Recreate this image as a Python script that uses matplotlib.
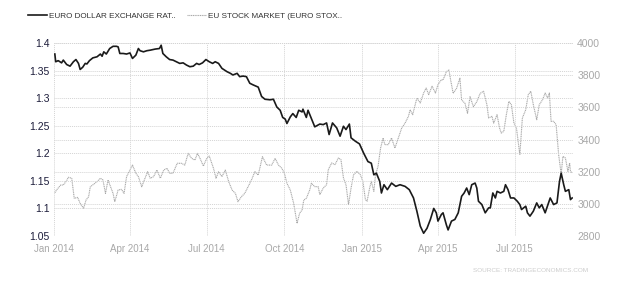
import numpy as np
import pandas as pd
import matplotlib
matplotlib.use("Agg")
import matplotlib.pyplot as plt
import matplotlib.dates as mdates

plt.rcParams['font.family'] = ['Liberation Sans', 'DejaVu Sans']

start = pd.Timestamp('2014-01-01')

# EUR/USD exchange rate: day offset from 2014-01-01 and value
eur_days = [1, 2, 5, 9, 11, 15, 19, 23, 26, 29, 31, 34, 37, 39, 42, 46, 51, 55, 57, 59,
            62, 66, 70, 74, 76, 78, 82, 86, 90, 93, 97, 100, 102, 106, 110, 114, 120, 125, 127, 129,
            133, 137, 141, 145, 149, 153, 157, 161, 165, 169, 172, 176, 180, 184, 188, 191, 195, 199, 205, 209,
            212, 217, 220, 224, 228, 232, 236, 242, 246, 250, 256, 260, 264, 268, 271, 274, 276, 280, 283, 287,
            290, 294, 295, 299, 301, 305, 309, 315, 319, 323, 326, 330, 335, 339, 343, 346, 350, 352, 357, 362,
            367, 372, 376, 379, 382, 386, 388, 391, 395, 400, 405, 410, 416, 421, 426, 430, 434, 438, 442, 446,
            450, 453, 455, 459, 461, 465, 467, 471, 475, 479, 483, 486, 489, 492, 495, 499, 501, 503, 507, 511,
            515, 517, 520, 523, 525, 529, 533, 535, 538, 541, 545, 549, 552, 554, 559, 561, 564, 568, 572, 575,
            578, 582, 584, 588, 592, 596, 599, 601, 604, 606, 610, 612, 614]
eur_vals = [1.380, 1.366, 1.368, 1.364, 1.369, 1.361, 1.358, 1.366, 1.370, 1.363, 1.352, 1.356, 1.363, 1.362, 1.368, 1.373, 1.375, 1.380, 1.376, 1.384,
            1.380, 1.390, 1.394, 1.394, 1.393, 1.381, 1.381, 1.380, 1.382, 1.372, 1.378, 1.390, 1.386, 1.384, 1.386, 1.387, 1.389, 1.390, 1.396, 1.381,
            1.375, 1.370, 1.369, 1.366, 1.363, 1.364, 1.360, 1.357, 1.358, 1.363, 1.361, 1.364, 1.370, 1.366, 1.363, 1.366, 1.363, 1.354, 1.348, 1.345,
            1.342, 1.345, 1.339, 1.340, 1.339, 1.327, 1.324, 1.320, 1.303, 1.298, 1.297, 1.298, 1.284, 1.278, 1.265, 1.262, 1.254, 1.266, 1.272, 1.265,
            1.278, 1.275, 1.280, 1.265, 1.278, 1.263, 1.248, 1.253, 1.252, 1.255, 1.234, 1.255, 1.246, 1.231, 1.249, 1.243, 1.253, 1.228, 1.222, 1.217,
            1.200, 1.185, 1.182, 1.161, 1.164, 1.149, 1.128, 1.143, 1.134, 1.146, 1.140, 1.143, 1.140, 1.134, 1.119, 1.095, 1.068, 1.055, 1.064, 1.080,
            1.100, 1.092, 1.077, 1.089, 1.092, 1.070, 1.061, 1.077, 1.080, 1.092, 1.122, 1.128, 1.137, 1.125, 1.143, 1.146, 1.137, 1.113, 1.107, 1.092,
            1.101, 1.101, 1.128, 1.119, 1.131, 1.128, 1.131, 1.143, 1.134, 1.119, 1.119, 1.113, 1.107, 1.098, 1.104, 1.092, 1.086, 1.095, 1.110, 1.101,
            1.107, 1.092, 1.101, 1.119, 1.107, 1.110, 1.149, 1.164, 1.143, 1.131, 1.134, 1.116, 1.119]

# EU stock market (Euro Stoxx 50): day offset and value
stk_days = [1, 3, 8, 11, 15, 17, 21, 24, 28, 31, 35, 38, 41, 43, 51, 55, 58, 61, 64, 70,
            72, 76, 80, 83, 86, 90, 93, 97, 100, 104, 107, 111, 114, 118, 122, 126, 130, 134, 137, 141,
            146, 151, 155, 159, 163, 167, 170, 173, 177, 181, 184, 189, 192, 195, 199, 203, 207, 211, 215, 218,
            222, 226, 230, 234, 238, 242, 247, 252, 258, 262, 266, 270, 273, 276, 280, 284, 288, 291, 294, 296,
            299, 303, 305, 309, 313, 315, 319, 323, 325, 329, 333, 337, 340, 343, 346, 349, 352, 355, 359, 363,
            366, 369, 371, 374, 376, 379, 381, 384, 387, 390, 392, 396, 400, 404, 408, 412, 416, 420, 422, 425,
            428, 430, 434, 438, 441, 444, 448, 452, 455, 459, 461, 465, 468, 470, 473, 477, 481, 483, 487, 490,
            493, 497, 501, 505, 509, 513, 515, 519, 521, 525, 528, 530, 533, 536, 539, 542, 545, 548, 552, 555,
            559, 562, 565, 568, 572, 575, 579, 582, 585, 587, 589, 592, 595, 598, 601, 603, 606, 609, 611, 612,
            614]
stk_vals = [3069, 3086, 3117, 3117, 3144, 3165, 3159, 3034, 3040, 3003, 2972, 3024, 3044, 3106, 3138, 3159, 3148, 3065, 3148, 3065,
            3013, 3086, 3090, 3065, 3169, 3210, 3241, 3190, 3169, 3106, 3148, 3200, 3159, 3169, 3210, 3159, 3210, 3221, 3190, 3190,
            3252, 3252, 3241, 3314, 3283, 3272, 3314, 3283, 3235, 3283, 3297, 3221, 3159, 3200, 3169, 3210, 3138, 3086, 3065, 3013,
            3044, 3065, 3106, 3148, 3200, 3179, 3293, 3241, 3241, 3283, 3241, 3221, 3190, 3128, 3086, 3003, 2879, 2941, 2962, 3024,
            3034, 3086, 3128, 3107, 3107, 3057, 3098, 3119, 3212, 3254, 3244, 3285, 3275, 3161, 3119, 2995, 3098, 3181, 3202, 3181,
            3140, 3026, 3016, 3098, 3140, 3078, 3181, 3233, 3347, 3409, 3368, 3368, 3409, 3347, 3409, 3471, 3502, 3544, 3585, 3554,
            3616, 3658, 3627, 3689, 3720, 3679, 3731, 3689, 3741, 3772, 3770, 3822, 3832, 3770, 3687, 3718, 3781, 3646, 3625, 3563,
            3666, 3604, 3635, 3687, 3700, 3616, 3534, 3544, 3502, 3554, 3471, 3440, 3451, 3554, 3637, 3616, 3502, 3471, 3305, 3534,
            3585, 3679, 3700, 3616, 3523, 3616, 3648, 3689, 3658, 3689, 3513, 3513, 3492, 3305, 3185, 3295, 3285, 3202, 3254, 3202,
            3192]

eur_dates = start + pd.to_timedelta(eur_days, unit='D')
stk_dates = start + pd.to_timedelta(stk_days, unit='D')

tick_dates = pd.to_datetime(['2014-01-01', '2014-04-01', '2014-07-01', '2014-10-01',
                             '2015-01-01', '2015-04-01', '2015-07-01'])
tick_labels = ['Jan 2014', 'Apr 2014', 'Jul 2014', 'Oct 2014', 'Jan 2015', 'Apr 2015', 'Jul 2015']
left_ticks = [1.05, 1.1, 1.15, 1.2, 1.25, 1.3, 1.35, 1.4]
left_labels = ['1.05', '1.1', '1.15', '1.2', '1.25', '1.3', '1.35', '1.4']
right_ticks = [2800, 3000, 3200, 3400, 3600, 3800, 4000]

fig = plt.figure(figsize=(6.27, 2.85), dpi=100)
ax = fig.add_axes([54 / 627, 1 - 236 / 285, (573 - 54) / 627, (236 - 43) / 285])
ax2 = ax.twinx()
ax.set_zorder(ax2.get_zorder() + 1)
ax.patch.set_visible(False)

grid_kw = dict(color='#d4d4d4', linestyle=(0, (1, 1)), linewidth=0.7)

l2, = ax2.plot(stk_dates, stk_vals, color='#a8a8a8', linewidth=0.8, linestyle=(0, (1, 0.6)))
l1, = ax.plot(eur_dates, eur_vals, color='#1a1a1a', linewidth=1.2)

ax.set_xlim(pd.Timestamp('2014-01-01'), start + pd.Timedelta(days=615))
ax.set_ylim(1.05, 1.4)
ax2.set_ylim(2800, 4000)

ax.set_xticks(tick_dates)
ax.set_xticklabels(tick_labels)
ax.set_yticks(left_ticks)
ax.set_yticklabels(left_labels)
ax2.set_yticks(right_ticks)

ax.grid(True, axis='both', **grid_kw)
ax2.grid(True, axis='y', **grid_kw)

for a in (ax, ax2):
    for s in a.spines.values():
        s.set_visible(False)
    a.tick_params(length=0)

ax.tick_params(axis='x', labelsize=7, colors='#a8a8a8', pad=6)
ax.tick_params(axis='y', labelsize=7.5, colors='#1c1c3a', pad=3)
ax2.tick_params(axis='y', labelsize=7.5, colors='#a8a8a8', pad=3)

fig.legend([l1, l2], ['EURO DOLLAR EXCHANGE RAT..', 'EU STOCK MARKET (EURO STOX..'],
           loc='upper left', bbox_to_anchor=(28 / 627, 1 - 12 / 285), ncol=2, frameon=False,
           fontsize=5.9, handlelength=2.3, handletextpad=0.25, columnspacing=1.4,
           borderpad=0, borderaxespad=0, labelcolor='#333333')

fig.text(588 / 627, 1 - 270 / 285, 'SOURCE: TRADINGECONOMICS.COM', ha='right', va='center',
         fontsize=4.6, color='#cccccc')

fig.savefig('out.png', dpi=100)
